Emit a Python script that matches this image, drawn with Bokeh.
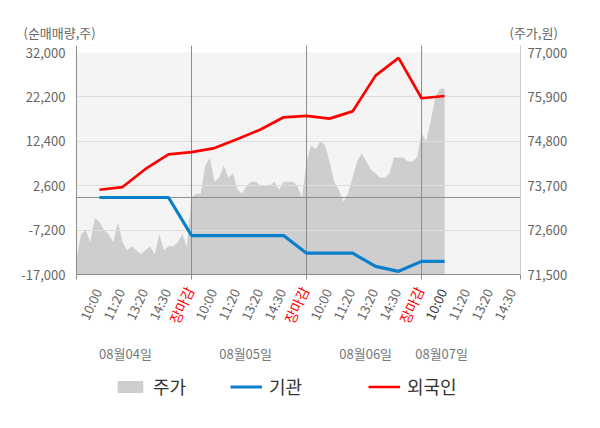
import math
from bokeh.plotting import figure
from bokeh.layouts import column
from bokeh.models import (Range1d, LinearAxis, FixedTicker, NumeralTickFormatter,
                          Legend, LegendItem, Span, Grid, BoxAnnotation, ColumnDataSource)
from bokeh.core.properties import value
from bokeh.embed import file_html
from bokeh.resources import INLINE

FONT = "Noto Sans CJK KR"

# ---- data ----
time_labels = ["10:00", "11:20", "13:20", "14:30", "장마감"]
dates = ["08월04일", "08월05일", "08월06일", "08월07일"]
left_ticks = [-17000, -7200, 2600, 12400, 22200, 32000]
right_ticks = [71500, 72600, 73700, 74800, 75900, 77000]

price_d1 = [71900, 72500, 72600, 72300, 72900, 72800, 72600, 72500, 72300, 72800, 72300, 72100, 72200,
            72100, 72000, 72100, 72200, 72000, 72500, 72100, 72200, 72200, 72300, 72500, 72200]
price_d2 = [73400, 73500, 73500, 74200, 74400, 73800, 73900, 74200, 73900, 74000, 73600, 73500, 73700,
            73800, 73800, 73700, 73700, 73700, 73800, 73600, 73800, 73800, 73800, 73700, 73400]
price_d3 = [74300, 74700, 74600, 74800, 74700, 74300, 73800, 73600, 73300, 73500, 73900, 74300, 74500,
            74300, 74100, 74000, 73900, 73900, 74000, 74400, 74400, 74400, 74300, 74300, 74400]
price_d4 = [75000, 74800, 75300, 75900, 76100, 76100]

institution = [0, 0, 0, 0, -8400, -8400, -8400, -8400, -8400, -12300, -12300, -12300,
               -15200, -16300, -14100, -14100]
foreign = [1700, 2300, 6300, 9500, 10000, 10900, 12900, 15000, 17700, 18000, 17400, 19000,
           26900, 30800, 21900, 22400]

# ---- layout constants ----
W, H = 600, 428
TOP_H, MAIN_H = 42, 242
BOT_H = H - TOP_H - MAIN_H
LEFT, RIGHT = 76, 80
FRAME_W = W - LEFT - RIGHT
SLOTS = 5
N_LABELS = 19
X_END = 19.3
PX_X = FRAME_W / X_END
STEP = 0.2
Y0, Y1 = -17000, 32000
P0, P1 = 71500, 77000
PX_H = 222.0
UPP = (Y1 - Y0) / PX_H
PPP = (P1 - P0) / PX_H
EXTRA = 7
ANGLE = math.radians(65)

BLUE = "#0a7fcc"
RED = "#ff0000"
AREA = "#cecece"

price_x, price_y = [], []
for d, day in enumerate([price_d1, price_d2, price_d3, price_d4]):
    for i, v in enumerate(day):
        price_x.append(d * SLOTS + i * STEP)
        price_y.append(v)
flow_x = list(range(1, len(foreign) + 1))


def bare(fig):
    fig.outline_line_color = None
    fig.background_fill_color = "white"
    fig.border_fill_color = "white"
    fig.grid.visible = False
    return fig


common = dict(output_backend="svg", toolbar_location=None, x_axis_location=None,
              y_axis_location=None, min_border=0, frame_align=False)

# ---------- top: axis titles ----------
top = bare(figure(width=W, height=TOP_H, x_range=Range1d(0, W), y_range=Range1d(0, TOP_H),
                  min_border_left=0, min_border_right=0, min_border_top=0, min_border_bottom=0,
                  **common))
top.text(x=[23, 509], y=[TOP_H - 32, TOP_H - 32], text=["(순매매량,주)", "(주가,원)"],
         text_font=value(FONT), text_font_size="13px", text_color="#666666",
         text_align="left", text_baseline="middle")

# ---------- main chart ----------
p = figure(width=W, height=MAIN_H, x_range=Range1d(0, X_END), y_range=Range1d(Y0, Y1 + EXTRA * UPP),
           min_border_left=LEFT, min_border_right=RIGHT, min_border_top=3,
           min_border_bottom=MAIN_H - 3 - 229, **common)
p.extra_y_ranges = {"price": Range1d(P0, P1 + EXTRA * PPP)}
p.background_fill_color = "#f4f4f4"
p.border_fill_color = "white"
p.outline_line_color = None
p.grid.visible = False

area = p.varea(x=price_x, y1=P0, y2=price_y, y_range_name="price",
               fill_color=AREA, level="image")
blue = p.line(x=flow_x, y=institution, line_color=BLUE, line_width=3.2)
red = p.line(x=flow_x, y=foreign, line_color=RED, line_width=2.7)

p.add_layout(BoxAnnotation(bottom=Y1, fill_color="white", fill_alpha=1.0,
                           line_color=None, level="underlay"))
p.add_layout(Grid(dimension=1, ticker=FixedTicker(ticks=left_ticks[1:-1]),
                  grid_line_color="#dddddd", grid_line_width=1, level="underlay"))
p.add_layout(Span(location=0, dimension="width", line_color="#8c8c8c", line_width=1, level="underlay"))
for d in range(1, 4):
    p.add_layout(Span(location=d * SLOTS, dimension="height", line_color="#8c8c8c",
                      line_width=1, level="underlay"))

yl = LinearAxis(ticker=FixedTicker(ticks=left_ticks), formatter=NumeralTickFormatter(format="0,0"))
yr = LinearAxis(y_range_name="price", ticker=FixedTicker(ticks=right_ticks),
                formatter=NumeralTickFormatter(format="0,0"))
for ax, col, so in [(yl, "#8c8c8c", 11), (yr, "#cccccc", 7)]:
    ax.axis_line_color = col
    ax.major_tick_line_color = None
    ax.minor_tick_line_color = None
    ax.major_tick_out = 0
    ax.major_tick_in = 0
    ax.major_label_standoff = so
    ax.major_label_text_font = FONT
    ax.major_label_text_font_size = "13px"
    ax.major_label_text_color = "#666666"
p.add_layout(yl, "left")
p.add_layout(yr, "right")

xb = LinearAxis(ticker=FixedTicker(ticks=[], minor_ticks=[0, 5, 10, 15, X_END]))
xb.axis_line_color = "#8c8c8c"
xb.major_tick_line_color = None
xb.minor_tick_line_color = "#8c8c8c"
xb.minor_tick_out = 5
xb.minor_tick_in = 0
xb.major_label_standoff = 0
p.add_layout(xb, "below")

# ---------- bottom: time labels, dates, legend ----------
bot = bare(figure(width=W, height=BOT_H, x_range=Range1d(-LEFT / PX_X, (W - LEFT) / PX_X),
                  y_range=Range1d(0, BOT_H), min_border_left=0, min_border_right=0,
                  min_border_top=0, min_border_bottom=0, **common))

time_x, time_text, time_color = [], [], []
close_x, close_text = [], []
for t in range(1, N_LABELS + 1):
    lab = time_labels[(t - 1) % SLOTS]
    if lab == "장마감":
        close_x.append(t)
        close_text.append(lab)
    else:
        time_x.append(t)
        time_text.append(lab)
        time_color.append("#333333" if t == 3 * SLOTS + 1 else "#666666")

bot.text(x="x", y=H - 289, text="text", text_color="color",
         source=ColumnDataSource(dict(x=time_x, text=time_text, color=time_color)),
         angle=ANGLE, text_align="right", text_baseline="middle", x_offset=-2,
         text_font=value(FONT), text_font_size="13px")
bot.text(x=close_x, y=[H - 287] * len(close_x), text=close_text, text_color=RED,
         angle=ANGLE, text_align="right", text_baseline="middle", x_offset=-2,
         text_font=value(FONT), text_font_size="14px")

date_pos = [2.13, 7.35, 12.57, 15.87]
bot.text(x=date_pos, y=[H - 353] * len(dates), text=dates, text_align="center",
         text_baseline="middle", text_font=value(FONT), text_font_size="13px",
         text_color="#777777")

# hidden copies of the series, used only as legend swatches
lg_area = bot.varea(x=price_x, y1=P0, y2=price_y, fill_color=AREA, visible=False)
lg_blue = bot.line(x=flow_x, y=institution, line_color=BLUE, line_width=3.2, visible=False)
lg_red = bot.line(x=flow_x, y=foreign, line_color=RED, line_width=2.7, visible=False)
for lab, r, vx in [("주가", lg_area, 114), ("기관", lg_blue, 230), ("외국인", lg_red, 368)]:
    lg = Legend(items=[LegendItem(label=lab, renderers=[r])], location=(vx, H - 399),
                orientation="horizontal", glyph_width=32, glyph_height=15, label_height=15,
                label_standoff=7, padding=0, margin=0, spacing=0,
                border_line_color=None, background_fill_alpha=0,
                label_text_font=FONT, label_text_font_size="18px", label_text_color="#333333",
                label_text_line_height=0.9)
    bot.add_layout(lg, "center")

layout = column(top, p, bot, spacing=0)
open("out.html", "w").write(file_html(layout, INLINE))
